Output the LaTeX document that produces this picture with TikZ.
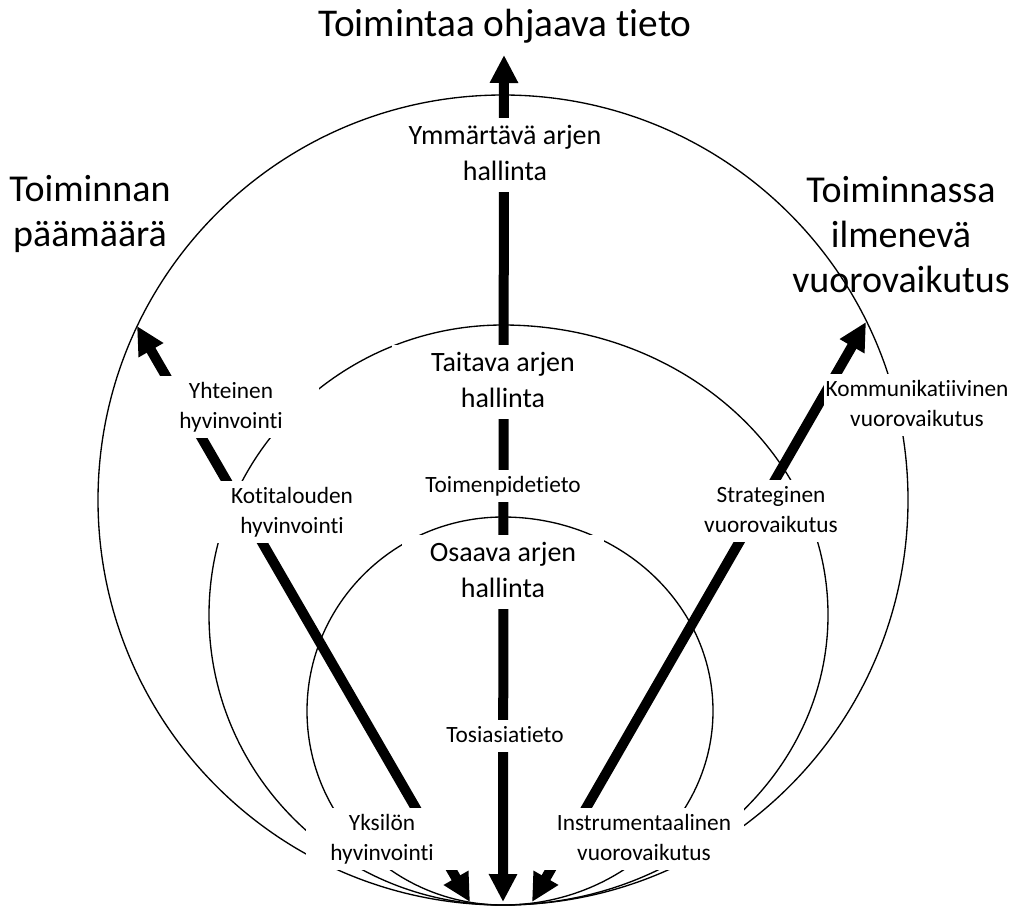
\documentclass[tikz,border=0pt]{standalone}
\usepackage{fontspec}
\setmainfont{Carlito}[Ligatures=NoCommon]
\usetikzlibrary{arrows.meta}

\tikzset{
  kaari/.style={line width=1pt},
  nuoli/.style={line width=7.5pt, {Triangle[length=21pt,width=20pt]}-{Triangle[length=21pt,width=20pt]}},
  otsikko/.style={font=\fontsize{28.5}{33.75}\selectfont, align=center},
  taso/.style={font=\fontsize{21}{27}\selectfont, align=center, fill=white, inner ysep=0.5pt},
  selite/.style={font=\fontsize{17.5}{22.5}\selectfont, align=center, fill=white, inner ysep=1pt}
}

\begin{document}
\begin{tikzpicture}[x=0.75pt, y=-0.75pt]
      \useasboundingbox (0,0) rectangle (1012,906);

      % kiinnekohdat
      \coordinate (keskus) at (503,500);
      \coordinate (pohja) at (503,905);
      \coordinate (alaV) at (470,902);
      \coordinate (alaK) at (503,902);
      \coordinate (alaO) at (532,902);
      \coordinate (ylaV) at (137,326);
      \coordinate (ylaK) at (504,55);
      \coordinate (ylaO) at (866,322);

      % kehat: kaikki koskettavat pohjaa
      \draw[kaari] (keskus) circle[radius=405];
      \draw[kaari] (pohja) arc[start angle=-90, end angle=-270, x radius=220.5pt, y radius=217.5pt]
                           arc[start angle=90, end angle=-90, x radius=243.75pt, y radius=217.5pt];
      \draw[kaari] (pohja) arc[start angle=-90, end angle=-270, x radius=147pt, y radius=145.5pt]
                           arc[start angle=90, end angle=-90, x radius=157.5pt, y radius=145.5pt];

      % nuolet
      \draw[nuoli] (alaK) -- (ylaK);
      \draw[nuoli] (alaV) -- (ylaV);
      \draw[nuoli] (alaO) -- (ylaO);

      % tekstit
      \node[otsikko, font=\fontsize{29.5}{33.75}\selectfont] (tieto) at (505,28) {\strut Toimintaa ohjaava tieto};
      \node[otsikko] (paamaara) at (90,215) {\strut Toiminnan\\päämäärä\strut};
      \node[otsikko] (ilmeneva) at (901,238) {\strut Toiminnassa\\ilmenevä\\vuorovaikutus\strut};

      \node[taso, inner xsep=6pt] (ymmartava) at (505,155) {\strut Ymmärtävä arjen\\hallinta\strut};
      \node[taso, inner xsep=29pt] (taitava) at (503,382) {\strut Taitava arjen\\hallinta\strut};
      \node[taso, inner xsep=21pt] (osaava) at (503,572) {\strut Osaava arjen\\hallinta\strut};

      \node[selite, inner xsep=4pt] (toimenpide) at (503,486) {\strut Toimenpidetieto\strut};
      \node[selite, inner xsep=4pt] (tosiasia) at (505,736) {\strut Tosiasiatieto\strut};

      \node[selite, inner xsep=27pt] (yhteinen) at (231,407) {\strut Yhteinen\\hyvinvointi\strut};
      \node[selite, inner xsep=14pt] (kotitalous) at (292,512) {\strut Kotitalouden\\hyvinvointi\strut};
      \node[selite, inner xsep=18pt] (yksilo) at (382,839) {\strut Yksilön\\hyvinvointi\strut};

      \node[selite, inner xsep=1pt] (kommunikatiivinen) at (917,405) {\strut Kommunikatiivinen\\vuorovaikutus\strut};
      \node[selite, inner xsep=4pt] (strateginen) at (771,511) {\strut Strateginen\\vuorovaikutus\strut};
      \node[selite, inner xsep=9.5pt] (instrumentaalinen) at (644,839) {\strut Instrumentaalinen\\vuorovaikutus\strut};
\end{tikzpicture}
\end{document}
